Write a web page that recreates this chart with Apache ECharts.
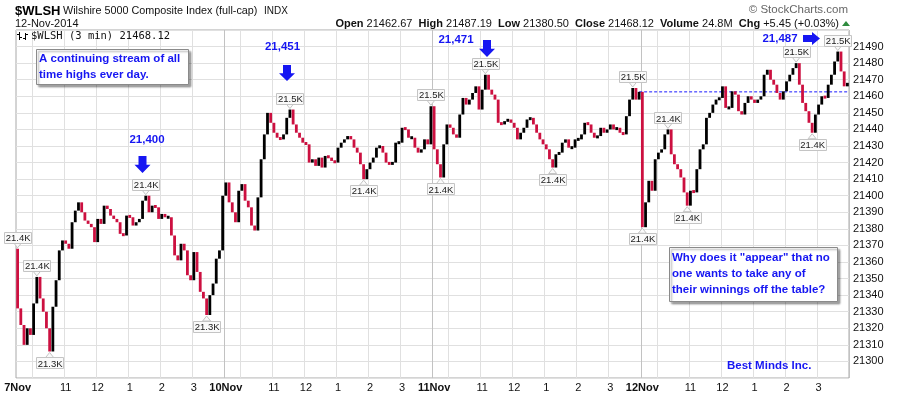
<!DOCTYPE html>
<html><head><meta charset="utf-8">
<script src="https://cdn.jsdelivr.net/npm/echarts/dist/echarts.min.js"></script>
<style>html,body{margin:0;padding:0;background:#fff}#c{width:897px;height:394px}</style>
</head><body><div id="c"></div>
<script>
// ---------- data ----------
const days = ['7Nov', '10Nov', '11Nov', '12Nov'];
const barMinutes = 6;          // bar length in minutes
const barsPerDay = 65;         // 9:30 .. 16:00
const firstOpen = 21368;
const close7Nov = [21332,21322,21310,21320,21316,21335,21351,21338,21330,21320,
  21306,21333,21349,21367,21373,21371,21368,21384,21391,21396,
  21390,21385,21383,21381,21372,21386,21383,21394,21392,21388,
  21386,21384,21377,21376,21388,21387,21382,21384,21386,21397,
  21400,21390,21394,21393,21386,21389,21387,21387,21376,21364,
  21361,21371,21367,21352,21349,21366,21354,21342,21338,21328,
  21340,21347,21362,21367,21400];
const close10Nov = [21408,21396,21390,21384,21403,21407,21397,21393,21382,21379,
  21399,21422,21437,21450,21444,21438,21435,21434,21437,21447,
  21452,21443,21438,21435,21432,21431,21420,21422,21418,21423,
  21417,21424,21423,21421,21420,21429,21432,21434,21436,21434,
  21429,21426,21419,21410,21416,21420,21423,21429,21430,21426,
  21420,21419,21420,21432,21432,21441,21440,21435,21435,21429,
  21426,21428,21434,21431,21454];
const close11Nov = [21428,21419,21411,21431,21443,21441,21437,21435,21449,21459,
  21455,21458,21462,21466,21452,21464,21473,21464,21461,21458,
  21444,21443,21445,21446,21444,21441,21434,21438,21441,21446,
  21447,21443,21438,21434,21431,21428,21422,21417,21425,21426,
  21432,21434,21429,21429,21434,21434,21437,21444,21443,21438,
  21435,21436,21441,21438,21440,21443,21440,21441,21438,21437,
  21448,21458,21465,21458,21462.67];
const close12Nov = [21381,21396,21409,21403,21422,21426,21428,21437,21440,21425,
  21419,21416,21411,21402,21394,21403,21402,21416,21428,21431,
  21447,21450,21455,21458,21459,21466,21453,21453,21463,21461,
  21451,21449,21456,21460,21458,21456,21458,21460,21473,21476,
  21470,21467,21462,21458,21463,21469,21473,21477,21480,21467,
  21456,21451,21444,21438,21449,21455,21460,21459,21467,21473,
  21481,21487,21475,21466,21468.12];
const prevClose = 21462.67;
// peak / trough callouts: [bar index, price]
const calloutsAbove = [[0,21368],[6,21351],[40,21400],[85,21452],[129,21454],[146,21473],[192,21465],[203,21440],[243,21480],[256,21487]];
const calloutsBelow = [[10,21306],[59,21328],[108,21410],[132,21411],[167,21417],[195,21381],[209,21394],[248,21438]];
const yMin = 21290, yMax = 21500, yStep = 10;
const quote = {open:'21462.67', high:'21487.19', low:'21380.50', close:'21468.12', volume:'24.8M', chg:'+5.45 (+0.03%)'};
const noteLevels = ['21,400', '21,451', '21,471', '21,487'];

// ---------- build ----------
const closes = [].concat(close7Nov, close10Nov, close11Nov, close12Nov);
const categories = [];
days.forEach(d => {
  for (let j = 0; j < barsPerDay; j++) {
    const m = 9 * 60 + 30 + j * barMinutes;
    categories.push(d + ' ' + Math.floor(m / 60) + ':' + String(m % 60).padStart(2, '0'));
  }
});
const barData = closes.map((c, i) => [i, i === 0 ? firstOpen : closes[i - 1], c]);
const isDayStart = v => v.endsWith(' 9:30');
const isHour = v => v.endsWith(':00');

const FONT = '"Liberation Sans", Arial, sans-serif';
const BLUE = '#1616f2';
const RED = '#cc1040';

function calloutItem(dir) {
  return function (params, api) {
    const i = api.value(0), v = api.value(1);
    const p = api.coord([i, v]);
    const w = 27, h = 11;
    let tipY, baseY, boxY;
    if (dir > 0) { tipY = p[1] - 1; baseY = p[1] - 6; boxY = baseY - h; }
    else { tipY = p[1] + 1; baseY = p[1] + 6; boxY = baseY; }
    return {
      type: 'group',
      children: [
        {type: 'polygon', shape: {points: [[p[0] - 4, baseY], [p[0] + 4, baseY], [p[0], tipY]]},
          style: {fill: '#fafafa', stroke: '#c4c4c4', lineWidth: 1}},
        {type: 'rect', shape: {x: Math.round(p[0] - w / 2) + 0.5, y: Math.round(boxY) + 0.5, width: w, height: h},
          style: {fill: '#fafafa', stroke: '#c4c4c4', lineWidth: 1}},
        {type: 'text', style: {text: (v / 1000).toFixed(1) + 'K', x: p[0] + 0.5, y: boxY + h / 2 + 1,
          align: 'center', verticalAlign: 'middle', textAlign: 'center', textVerticalAlign: 'middle',
          font: '9.5px ' + FONT, fill: '#1a1a1a'}}
      ]
    };
  };
}

function downArrow(cx, top, bottom) {
  const mid = top + (bottom - top) * 0.52;
  return {type: 'polygon', shape: {points: [[cx - 4, top], [cx + 4, top], [cx + 4, mid], [cx + 8, mid], [cx, bottom], [cx - 8, mid], [cx - 4, mid]]},
    style: {fill: BLUE}};
}
function txt(text, x, y, font, fill, align) {
  return {type: 'text', style: {text, x, y, font, fill: fill || '#111', align: align || 'left', textAlign: align || 'left',
    verticalAlign: 'middle', textVerticalAlign: 'middle'}};
}
function noteBox(x, y, w, h, lines, lx, ly0, dy) {
  const out = [{type: 'rect', shape: {x: x, y: y, width: w, height: h},
    style: {fill: '#fff', stroke: '#8a8a8a', lineWidth: 1, shadowColor: 'rgba(0,0,0,0.35)', shadowOffsetX: 2, shadowOffsetY: 2, shadowBlur: 2}}];
  lines.forEach((s, k) => out.push(txt(s, lx, ly0 + k * dy, 'bold 11.5px ' + FONT, BLUE)));
  return out;
}

const graphics = [].concat(
  [
    txt('$WLSH', 15, 11, 'bold 13px ' + FONT, '#000'),
    txt('Wilshire 5000 Composite Index (full-cap)', 63, 11.5, '10.8px ' + FONT, '#111'),
    txt('INDX', 264, 11.5, '10px ' + FONT, '#111'),
    txt('12-Nov-2014', 15, 23.5, '11px ' + FONT, '#111'),
    txt('\u00A9 StockCharts.com', 848, 10, '11.5px ' + FONT, '#666', 'right'),
    {type: 'text', style: {
      text: '{b|Open} ' + quote.open + '  {b|High} ' + quote.high + '  {b|Low} ' + quote.low + '  {b|Close} ' + quote.close +
        '  {b|Volume} ' + quote.volume + '  {b|Chg} ' + quote.chg,
      x: 839, y: 23.5, align: 'right', textAlign: 'right', verticalAlign: 'middle', textVerticalAlign: 'middle',
      font: '11px ' + FONT, fill: '#111',
      rich: {b: {font: 'bold 11px ' + FONT, fill: '#111'}}
    }},
    {type: 'polygon', shape: {points: [[842, 26], [850, 26], [846, 21]]}, style: {fill: '#2e8b3e'}},
    // legend glyph + label
    {type: 'line', shape: {x1: 19.5, y1: 32, x2: 19.5, y2: 40}, style: {stroke: '#000', lineWidth: 1}},
    {type: 'line', shape: {x1: 17, y1: 34.5, x2: 19.5, y2: 34.5}, style: {stroke: '#000', lineWidth: 1}},
    {type: 'line', shape: {x1: 19.5, y1: 37.5, x2: 22, y2: 37.5}, style: {stroke: '#000', lineWidth: 1}},
    {type: 'line', shape: {x1: 25.5, y1: 33, x2: 25.5, y2: 40}, style: {stroke: '#000', lineWidth: 1}},
    {type: 'line', shape: {x1: 23, y1: 38.5, x2: 25.5, y2: 38.5}, style: {stroke: '#000', lineWidth: 1}},
    {type: 'line', shape: {x1: 25.5, y1: 34.5, x2: 28, y2: 34.5}, style: {stroke: '#000', lineWidth: 1}},
    txt('$WLSH (3 min) ' + quote.close, 31, 36.5, '10.5px "DejaVu Sans Mono", monospace', '#111')
  ],
  noteBox(36.5, 49.5, 152, 35, ['A continuing stream of all', 'time highs ever day.'], 39, 58.5, 16),
  noteBox(669.5, 247.5, 168, 54, ['Why does it "appear" that no', 'one wants to take any of', 'their winnings off the table?'], 672, 257.5, 16),
  [
    txt('Best Minds Inc.', 727, 365.5, 'bold 11.5px ' + FONT, BLUE),
    // level notes with arrows
    txt(noteLevels[0], 147, 139.5, 'bold 11.5px ' + FONT, BLUE, 'center'),
    downArrow(142.5, 156, 173),
    txt(noteLevels[1], 282.5, 46.5, 'bold 11.5px ' + FONT, BLUE, 'center'),
    downArrow(287, 65, 81),
    txt(noteLevels[2], 456, 40, 'bold 11.5px ' + FONT, BLUE, 'center'),
    downArrow(487, 40, 57),
    txt(noteLevels[3], 780, 38.5, 'bold 11.5px ' + FONT, BLUE, 'center'),
    {type: 'polygon', shape: {points: [[803, 35], [812, 35], [812, 32], [820, 38.5], [812, 45], [812, 42], [803, 42]]}, style: {fill: BLUE}}
  ]
);
graphics.forEach((g, k) => { g.z = 100 + k; g.zlevel = 1; });

const chart = echarts.init(document.getElementById('c'), null, {renderer: 'canvas'});
chart.setOption({
  animation: false,
  backgroundColor: '#fff',
  grid: {left: 16, right: 48, top: 30, bottom: 16, show: true, borderColor: '#a8a8a8', borderWidth: 1, backgroundColor: '#fff'},
  xAxis: [{
    type: 'category', data: categories, boundaryGap: true,
    axisLine: {show: false}, axisTick: {show: false},
    axisLabel: {
      interval: (i, v) => isDayStart(v) || (isHour(v) && !v.endsWith(' 10:00')),
      formatter: v => {
        const parts = v.split(' ');
        if (parts[1] === '9:30') return '{d|' + parts[0] + '}';
        let h = +parts[1].split(':')[0];
        if (h > 12) h -= 12;
        return String(h);
      },
      margin: 4, fontSize: 11, color: '#111', fontFamily: FONT,
      rich: {d: {fontWeight: 'bold', fontSize: 11, color: '#111', fontFamily: FONT}}
    },
    splitLine: {show: true, interval: (i, v) => isHour(v), lineStyle: {color: '#e0e0e0', width: 1}}
  }, {
    type: 'category', data: categories, boundaryGap: true, position: 'bottom',
    axisLine: {show: false}, axisTick: {show: false}, axisLabel: {show: false},
    splitLine: {show: true, interval: (i, v) => isDayStart(v) && i > 0, lineStyle: {color: '#c2c2c2', width: 1}}
  }],
  yAxis: {
    type: 'value', position: 'right', min: yMin, max: yMax, interval: yStep, scale: true,
    axisLine: {show: false}, axisTick: {show: false},
    axisLabel: {formatter: v => (v === yMin || v === yMax) ? '' : String(v), fontSize: 11, color: '#111', fontFamily: FONT, margin: 4},
    splitLine: {show: true, lineStyle: {color: '#e0e0e0', width: 1}}
  },
  series: [{
    type: 'line', xAxisIndex: 0, data: [[194, prevClose], [259, prevClose]], symbol: 'none',
    lineStyle: {color: '#1a1aff', width: 1, type: [3, 2]}, z: 1, silent: true
  }, {
    type: 'custom', xAxisIndex: 0, data: barData, encode: {x: 0, y: [1, 2]}, z: 3,
    renderItem: (params, api) => {
      const i = api.value(0), o = api.value(1), c = api.value(2);
      const p1 = api.coord([i, o]), p2 = api.coord([i, c]);
      let y1 = Math.min(p1[1], p2[1]), y2 = Math.max(p1[1], p2[1]);
      if (y2 - y1 < 3) { const m = (y1 + y2) / 2; y1 = m - 1.5; y2 = m + 1.5; }
      return {type: 'rect', shape: {x: p1[0] - 1.4, y: y1, width: 2.8, height: y2 - y1}, style: {fill: c >= o ? '#000' : RED}};
    }
  }, {
    type: 'custom', xAxisIndex: 0, data: calloutsAbove, encode: {x: 0, y: 1}, clip: false, z: 5, renderItem: calloutItem(1)
  }, {
    type: 'custom', xAxisIndex: 0, data: calloutsBelow, encode: {x: 0, y: 1}, clip: false, z: 5, renderItem: calloutItem(-1)
  }],
  graphic: graphics
});
</script></body></html>
